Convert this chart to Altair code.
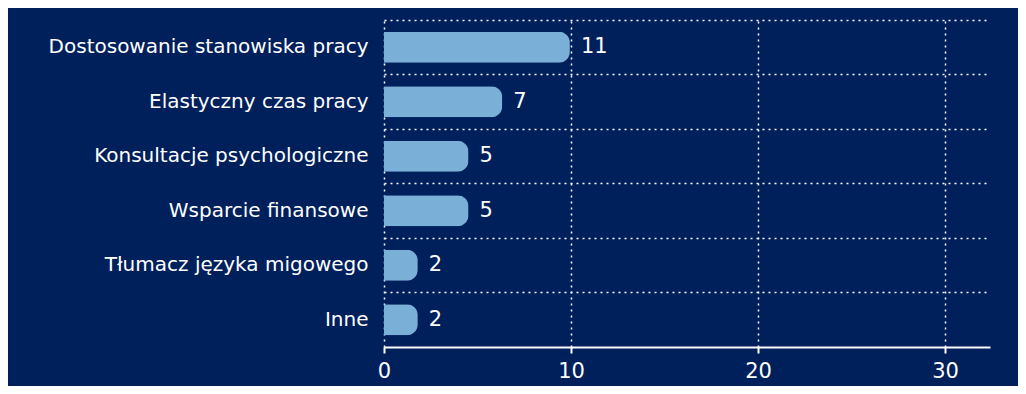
import altair as alt
import pandas as pd

categories = ["Dostosowanie stanowiska pracy", "Elastyczny czas pracy",
              "Konsultacje psychologiczne", "Wsparcie finansowe",
              "Tłumacz języka migowego", "Inne"]
values = [11, 7, 5, 5, 2, 2]
x_ticks = [0, 10, 20, 30]

df = pd.DataFrame({"cat": categories, "val": values})
df_ticks = pd.DataFrame({"t": x_ticks})

BG = "#00205b"
BAR = "#7aafd8"
FONT = "DejaVu Sans"

y_enc = alt.Y("cat:N", sort=categories, title=None,
              scale=alt.Scale(paddingInner=0, paddingOuter=0),
              axis=alt.Axis(bandPosition=0, grid=True, gridColor="white",
                            gridDash=[2, 4], gridWidth=1.5, ticks=False,
                            domain=False, labelColor="white", labelFontSize=20,
                            labelFont=FONT, labelPadding=16, labelLimit=400))

# axis layer (tick scale as printed on the reference)
axis_layer = alt.Chart(df_ticks).mark_point(opacity=0).encode(
    x=alt.X("t:Q", title=None,
            scale=alt.Scale(domain=[0, 32.4], nice=False),
            axis=alt.Axis(values=x_ticks, grid=True, gridColor="white",
                          gridDash=[2, 4], gridWidth=1.5, domainColor="white",
                          domainWidth=2, tickColor="white", tickWidth=2,
                          tickSize=6, labelColor="white", labelFontSize=21,
                          labelFont=FONT, labelPadding=7, labelFlush=False)))

bar_x = alt.X("val:Q", title=None, axis=None,
              scale=alt.Scale(domain=[0, 35.86], nice=False))

bars = alt.Chart(df).mark_bar(color=BAR, cornerRadiusEnd=11,
                              height=alt.RelativeBandSize(0.57)).encode(x=bar_x, y=y_enc)
labels = alt.Chart(df).mark_text(align="left", baseline="middle", dx=11,
                                 color="white", fontSize=21, font=FONT).encode(
    x=bar_x, y=alt.Y("cat:N", sort=categories), text="val:Q")

chart = alt.layer(axis_layer, alt.layer(bars, labels)).resolve_scale(
    x="independent"
).properties(
    width=606, height=327, background=BG,
    padding={"left": 376, "top": 12, "right": 28, "bottom": 39},
    autosize=alt.AutoSizeParams(type="none"),
).configure_view(stroke=None)

chart.save("out.html", embed_options={"renderer": "svg", "actions": False})
